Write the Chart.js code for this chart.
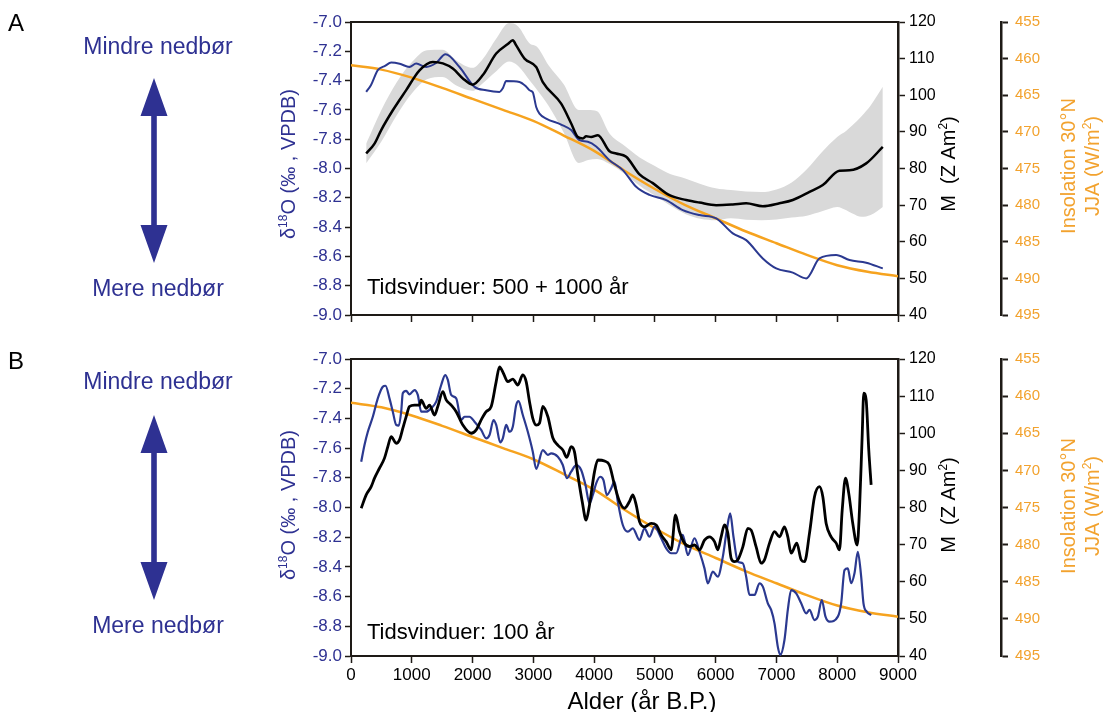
<!DOCTYPE html>
<html><head><meta charset="utf-8">
<script src="https://cdn.jsdelivr.net/npm/chart.js@4.4.1/dist/chart.umd.min.js"></script>
<style>
html,body{margin:0;padding:0;background:#fff;}
#wrap{position:relative;width:1103px;height:712px;overflow:hidden;background:#fff;}
canvas{position:absolute;left:0;}
#cA{top:0;} #cB{top:340px;}
</style></head><body>
<div id="wrap"><canvas id="cA" width="1103" height="340"></canvas><canvas id="cB" width="1103" height="372"></canvas></div>
<script>
// ---------------- DATA ----------------
// Insolation 30°N JJA (W/m2), same curve in both panels
const insAges = [0, 500, 1000, 1500, 2000, 2500, 3000, 3500, 4000, 4500, 5000, 5500, 6000, 6500, 7000, 7500, 8000, 8500, 9000];
const insVals = [460.9, 461.5, 462.6, 464.0, 465.5, 467.0, 468.5, 470.5, 472.6, 475.3, 477.8, 480.0, 481.8, 483.6, 485.2, 486.8, 488.2, 489.1, 489.7];

// Panel A: d18O (500 + 1000 yr windows)
const aBlueAges = [250, 330, 441, 560, 661, 800, 962, 1073, 1237, 1400, 1555, 1785, 2032, 2224, 2443, 2500, 2553, 2772, 2880, 2937, 2991, 3047, 3101, 3211, 3458, 3623, 3760, 3896, 4034, 4253, 4472, 4692, 4911, 5186, 5459, 5734, 6009, 6282, 6502, 6775, 6996, 7269, 7490, 7708, 7983, 8202, 8477, 8750];
const aBlueVals = [-7.477, -7.43, -7.329, -7.30, -7.277, -7.285, -7.307, -7.284, -7.307, -7.28, -7.22, -7.307, -7.443, -7.466, -7.477, -7.45, -7.402, -7.409, -7.44, -7.466, -7.48, -7.58, -7.625, -7.659, -7.70, -7.738, -7.807, -7.818, -7.85, -7.943, -8.011, -8.125, -8.18, -8.216, -8.284, -8.318, -8.34, -8.443, -8.489, -8.614, -8.682, -8.711, -8.75, -8.614, -8.591, -8.625, -8.643, -8.682];

// Panel A: M (Z Am2)
const aMAges = [250, 387, 497, 688, 908, 1127, 1346, 1511, 1675, 1840, 2004, 2169, 2389, 2580, 2662, 2718, 2855, 3047, 3156, 3458, 3623, 3732, 3815, 3869, 3951, 4061, 4253, 4363, 4528, 4747, 4966, 5240, 5515, 5734, 6009, 6282, 6502, 6775, 7050, 7269, 7544, 7763, 8037, 8202, 8477, 8750];
const aMVals = [84.1, 86.8, 90.5, 95.9, 101.4, 106.8, 109.1, 108.7, 107.3, 104.6, 102.9, 105.5, 111.4, 114.0, 115.0, 113.6, 110.0, 107.7, 103.6, 97.7, 92.3, 88.6, 88.2, 88.8, 88.6, 89.1, 84.7, 84.1, 83.2, 78.4, 76.0, 72.7, 71.4, 70.7, 70.0, 70.2, 70.5, 69.7, 70.5, 71.4, 73.6, 75.5, 79.4, 79.5, 81.4, 85.9];

// Panel A: M uncertainty band
const bandAges = [250, 500, 750, 1000, 1250, 1500, 1750, 2000, 2150, 2400, 2600, 2750, 2950, 3050, 3250, 3500, 3750, 3900, 4050, 4250, 4500, 4750, 5000, 5250, 5500, 5750, 6000, 6250, 6500, 6750, 7000, 7250, 7500, 7750, 8000, 8150, 8250, 8400, 8550, 8750];
const bandUpper = [86.8, 96.0, 103.5, 109.0, 112.3, 112.4, 109.3, 107.5, 109.5, 115.7, 119.7, 118.8, 114.0, 113.4, 108.2, 103.0, 96.0, 96.0, 95.6, 89.6, 86.2, 83.0, 80.7, 78.5, 77.3, 75.8, 74.6, 74.1, 73.7, 73.6, 74.3, 76.2, 79.8, 84.5, 88.6, 90.3, 91.8, 94.3, 97.2, 102.3];
const bandLower = [81.4, 87.4, 94.5, 100.5, 104.4, 105.0, 102.5, 101.2, 103.0, 106.7, 109.2, 108.0, 103.8, 101.7, 97.1, 89.8, 81.5, 82.3, 82.6, 81.3, 78.6, 75.3, 72.6, 69.9, 67.6, 66.3, 65.9, 66.4, 66.0, 65.9, 66.1, 66.6, 67.1, 68.3, 69.5, 68.6, 67.7, 66.8, 67.3, 69.5];

// Panel B: d18O (100 yr window)
const bBlueAges = [168, 222, 277, 359, 441, 523, 568, 633, 688, 743, 786, 826, 852, 908, 962, 1045, 1099, 1155, 1237, 1320, 1402, 1484, 1550, 1593, 1648, 1731, 1813, 1867, 1950, 2032, 2142, 2224, 2279, 2345, 2389, 2455, 2498, 2553, 2608, 2662, 2718, 2756, 2827, 2909, 2991, 3047, 3156, 3238, 3294, 3403, 3485, 3551, 3623, 3705, 3787, 3858, 3924, 3979, 4034, 4100, 4154, 4209, 4281, 4335, 4390, 4472, 4555, 4637, 4747, 4829, 4911, 4994, 5104, 5186, 5268, 5350, 5459, 5542, 5652, 5734, 5816, 5871, 5953, 6035, 6118, 6183, 6239, 6293, 6365, 6447, 6502, 6557, 6639, 6721, 6776, 6858, 6913, 6968, 7022, 7062, 7132, 7187, 7242, 7325, 7407, 7490, 7544, 7626, 7681, 7746, 7807, 7873, 8010, 8065, 8120, 8174, 8229, 8284, 8339, 8394, 8432, 8487, 8558];
const bBlueVals = [-7.692, -7.579, -7.49, -7.389, -7.265, -7.187, -7.18, -7.265, -7.355, -7.444, -7.449, -7.355, -7.231, -7.215, -7.238, -7.209, -7.242, -7.355, -7.355, -7.332, -7.287, -7.175, -7.108, -7.141, -7.242, -7.265, -7.411, -7.389, -7.389, -7.422, -7.478, -7.534, -7.512, -7.411, -7.444, -7.561, -7.534, -7.444, -7.49, -7.456, -7.31, -7.283, -7.377, -7.49, -7.624, -7.74, -7.613, -7.646, -7.635, -7.658, -7.714, -7.803, -7.759, -7.714, -7.747, -7.848, -7.972, -7.916, -7.837, -7.793, -7.815, -7.916, -7.871, -7.826, -7.961, -8.118, -8.163, -8.14, -8.219, -8.14, -8.197, -8.129, -8.207, -8.275, -8.308, -8.308, -8.185, -8.32, -8.207, -8.298, -8.41, -8.511, -8.432, -8.466, -8.331, -8.152, -8.04, -8.197, -8.365, -8.376, -8.466, -8.589, -8.589, -8.51, -8.533, -8.645, -8.69, -8.78, -8.937, -8.993, -8.892, -8.69, -8.556, -8.578, -8.645, -8.713, -8.69, -8.758, -8.735, -8.623, -8.735, -8.769, -8.735, -8.645, -8.421, -8.41, -8.51, -8.443, -8.298, -8.466, -8.645, -8.702, -8.724];

// Panel B: M (100 yr window)
const bMAges = [168, 250, 332, 387, 469, 551, 606, 661, 743, 798, 852, 908, 962, 1045, 1127, 1155, 1237, 1292, 1374, 1428, 1511, 1566, 1648, 1731, 1840, 1977, 2060, 2142, 2224, 2307, 2389, 2443, 2509, 2580, 2662, 2744, 2827, 2882, 2937, 2991, 3047, 3101, 3156, 3238, 3320, 3403, 3485, 3551, 3623, 3677, 3732, 3804, 3869, 3924, 4006, 4061, 4171, 4253, 4335, 4418, 4500, 4582, 4637, 4692, 4747, 4829, 4939, 5021, 5104, 5186, 5268, 5339, 5405, 5487, 5569, 5652, 5734, 5816, 5898, 5981, 6035, 6090, 6145, 6200, 6255, 6310, 6365, 6447, 6529, 6584, 6666, 6748, 6803, 6886, 6968, 7050, 7132, 7187, 7242, 7335, 7407, 7462, 7544, 7626, 7708, 7763, 7818, 7900, 7983, 8037, 8082, 8136, 8190, 8256, 8329, 8366, 8410, 8437, 8476, 8519, 8558];
const bMVals = [79.8, 83.4, 85.6, 87.9, 90.6, 93.3, 96.4, 99.1, 97.3, 98.2, 101.3, 104.5, 107.2, 107.6, 107.6, 108.9, 106.7, 107.6, 104.9, 107.2, 111.2, 109.0, 107.6, 105.8, 102.2, 100.0, 100.9, 103.6, 105.8, 107.2, 113.9, 117.9, 116.1, 113.9, 114.6, 113.0, 115.7, 113.9, 108.5, 104.0, 102.2, 102.7, 107.2, 104.5, 98.8, 96.8, 95.5, 93.5, 96.4, 95.0, 88.8, 81.6, 76.6, 80.7, 89.6, 92.8, 92.5, 91.4, 86.1, 81.6, 79.8, 81.6, 83.4, 80.7, 76.2, 74.8, 75.7, 75.3, 72.6, 70.8, 68.6, 78.0, 73.5, 70.4, 69.5, 69.9, 68.6, 71.2, 72.1, 70.8, 68.6, 72.1, 75.3, 73.1, 66.3, 65.4, 65.9, 69.4, 74.4, 73.9, 69.4, 65.0, 65.9, 70.4, 73.5, 72.1, 74.8, 72.1, 67.7, 70.4, 65.9, 65.4, 73.1, 82.9, 85.6, 82.9, 75.7, 72.1, 70.4, 68.6, 79.3, 87.9, 83.8, 75.7, 69.9, 79.3, 99.1, 110.8, 109.0, 95.5, 86.1];

// Texts
const letters = ['A', 'B'];
const windowTexts = ['Tidsvinduer: 500 + 1000 år', 'Tidsvinduer: 100 år'];
const upText = 'Mindre nedbør';
const downText = 'Mere nedbør';
const xTitle = 'Alder (år B.P.)';

// ---------------- STYLE ----------------
const FONT = '"Liberation Sans", Arial, Helvetica, sans-serif';
const BLUE_TXT = '#2e3192';
const BLUE_LINE = '#2b3990';
const ORANGE = '#f6a31f';
const ORANGE_TXT = '#f2a22e';
const GREY = '#d9d9d9';
const AXIS = '#1e1a16';
Chart.defaults.font.family = FONT;

const pts = (xs, ys) => xs.map((x, i) => ({x: x, y: ys[i]}));

function drawRot(ctx, cx, cy, parts, size, color) {
  ctx.save();
  ctx.translate(cx, cy);
  ctx.rotate(-Math.PI / 2);
  ctx.fillStyle = color;
  ctx.textBaseline = 'alphabetic';
  ctx.textAlign = 'left';
  let total = 0;
  parts.forEach(p => {
    ctx.font = (p.sup ? Math.round(size * 0.62) : size) + 'px ' + FONT;
    p.w = ctx.measureText(p.t).width;
    total += p.w;
  });
  let x = -total / 2;
  parts.forEach(p => {
    ctx.font = (p.sup ? Math.round(size * 0.62) : size) + 'px ' + FONT;
    ctx.fillText(p.t, x, p.sup ? -size * 0.42 : 0);
    x += p.w;
  });
  ctx.restore();
}

function text(ctx, t, x, y, size, color, align) {
  ctx.save();
  ctx.font = size + 'px ' + FONT;
  ctx.fillStyle = color;
  ctx.textAlign = align || 'left';
  ctx.textBaseline = 'middle';
  ctx.fillText(t, x, y);
  ctx.restore();
}

function arrow(ctx, x, top, bot) {
  const hl = 38, hw = 13.5, sw = 2.8;
  ctx.save();
  ctx.fillStyle = BLUE_TXT;
  ctx.fillRect(x - sw, top + hl - 2, sw * 2, bot - top - 2 * hl + 4);
  ctx.beginPath();
  ctx.moveTo(x, top); ctx.lineTo(x + hw, top + hl); ctx.lineTo(x - hw, top + hl); ctx.closePath();
  ctx.moveTo(x, bot); ctx.lineTo(x + hw, bot - hl); ctx.lineTo(x - hw, bot - hl); ctx.closePath();
  ctx.fill();
  ctx.restore();
}

function panelPlugin(c) {
  return {
    id: 'panel' + c.idx,
    afterDraw(chart) {
      const ctx = chart.ctx;
      const a = chart.chartArea;
      // top border of frame
      ctx.save();
      ctx.strokeStyle = AXIS; ctx.lineWidth = 2;
      ctx.beginPath(); ctx.moveTo(a.left - 1, a.top); ctx.lineTo(a.right + 1, a.top); ctx.stroke();
      ctx.restore();
      // left annotation
      text(ctx, letters[c.idx], 8, c.letterY, 24, '#000', 'left');
      text(ctx, upText, 158, c.upY, 23, BLUE_TXT, 'center');
      text(ctx, downText, 158, c.downY, 23, BLUE_TXT, 'center');
      arrow(ctx, 154, c.arrTop, c.arrBot);
      // window text
      text(ctx, windowTexts[c.idx], 367, c.winY, 22, '#000', 'left');
      // axis titles
      drawRot(ctx, 295, c.lTitleY, [{t: 'δ'}, {t: '18', sup: true}, {t: 'O (‰ , VPDB)'}], 20, BLUE_TXT);
      drawRot(ctx, 955, c.mTitleY, [{t: 'M  (Z Am'}, {t: '2', sup: true}, {t: ')'}], 20, '#000');
      drawRot(ctx, 1075, c.iTitleY, [{t: 'Insolation 30°N'}], 20, ORANGE_TXT);
      drawRot(ctx, 1099, c.iTitleY, [{t: 'JJA (W/m'}, {t: '2', sup: true}, {t: ')'}], 20, ORANGE_TXT);
      if (c.showX) {
        ctx.save();
        ctx.font = '24px ' + FONT; ctx.fillStyle = '#000';
        ctx.textAlign = 'center'; ctx.textBaseline = 'alphabetic';
        ctx.fillText(xTitle, 642, 368.5);
        ctx.restore();
      }
    }
  };
}

function makeScales(showX, xHeight) {
  return {
    x: {
      type: 'linear', min: 0, max: 9000,
      ticks: {stepSize: 1000, display: showX, color: '#000', font: {size: 17}, padding: 2, maxRotation: 0, autoSkip: false, callback: v => String(v)},
      grid: {drawOnChartArea: false, drawTicks: true, tickLength: 7, tickColor: AXIS, tickWidth: 1.5},
      border: {display: true, color: AXIS, width: 2},
      afterFit: s => { s.height = xHeight; }
    },
    y: {
      type: 'linear', position: 'left', min: -9, max: -7,
      ticks: {stepSize: 0.2, color: BLUE_TXT, font: {size: 17}, padding: 3, callback: v => v.toFixed(1)},
      grid: {drawOnChartArea: false, drawTicks: true, tickLength: 6, tickColor: AXIS, tickWidth: 1.5},
      border: {display: true, color: AXIS, width: 2},
      afterFit: s => { s.width = 351; }
    },
    yM: {
      type: 'linear', position: 'right', weight: 0, min: 40, max: 120,
      ticks: {stepSize: 10, color: '#000', font: {size: 16}, padding: 4},
      grid: {drawOnChartArea: false, drawTicks: true, tickLength: 7, tickColor: AXIS, tickWidth: 1.5},
      border: {display: true, color: AXIS, width: 2.5},
      afterFit: s => { s.width = 103; }
    },
    yI: {
      type: 'linear', position: 'right', weight: 1, min: 455, max: 495, reverse: true,
      ticks: {stepSize: 5, color: ORANGE_TXT, font: {size: 15}, padding: 7},
      grid: {drawOnChartArea: false, drawTicks: true, tickLength: 7, tickColor: AXIS, tickWidth: 2},
      border: {display: true, color: AXIS, width: 2.5},
      afterFit: s => { s.width = 102; }
    }
  };
}

const lineDS = (data, color, width, axis, order) => ({
  data: data, borderColor: color, borderWidth: width, yAxisID: axis, order: order,
  pointRadius: 0, fill: false, cubicInterpolationMode: 'monotone'
});

const common = {
  responsive: false, animation: false, devicePixelRatio: 1,
  plugins: {legend: {display: false}, tooltip: {enabled: false}}
};

// Panel A
new Chart(document.getElementById('cA'), {
  type: 'line',
  data: {datasets: [
    {data: pts(bandAges, bandLower), borderColor: 'rgba(0,0,0,0)', borderWidth: 0, yAxisID: 'yM', order: 10, pointRadius: 0, fill: false, cubicInterpolationMode: 'monotone'},
    {data: pts(bandAges, bandUpper), borderColor: 'rgba(0,0,0,0)', borderWidth: 0, backgroundColor: GREY, yAxisID: 'yM', order: 9, pointRadius: 0, fill: '-1', cubicInterpolationMode: 'monotone'},
    lineDS(pts(insAges, insVals), ORANGE, 2.5, 'yI', 3),
    lineDS(pts(aBlueAges, aBlueVals), BLUE_LINE, 2, 'y', 2),
    lineDS(pts(aMAges, aMVals), '#000', 2.5, 'yM', 1)
  ]},
  options: Object.assign({}, common, {
    layout: {padding: {top: 22, left: 0, right: 0, bottom: 0}},
    scales: makeScales(false, 25)
  }),
  plugins: [panelPlugin({idx: 0, showX: false, letterY: 24, upY: 48, downY: 290, arrTop: 78, arrBot: 263, winY: 288, lTitleY: 164, mTitleY: 164, iTitleY: 166})]
});

// Panel B
new Chart(document.getElementById('cB'), {
  type: 'line',
  data: {datasets: [
    lineDS(pts(insAges, insVals), ORANGE, 2.5, 'yI', 3),
    lineDS(pts(bBlueAges, bBlueVals), BLUE_LINE, 2.2, 'y', 2),
    lineDS(pts(bMAges, bMVals), '#000', 2.8, 'yM', 1)
  ]},
  options: Object.assign({}, common, {
    layout: {padding: {top: 19, left: 0, right: 0, bottom: 0}},
    scales: makeScales(true, 56)
  }),
  plugins: [panelPlugin({idx: 1, showX: true, letterY: 22, upY: 43, downY: 287, arrTop: 75, arrBot: 260, winY: 293, lTitleY: 165, mTitleY: 165, iTitleY: 166})]
});
</script></body></html>
